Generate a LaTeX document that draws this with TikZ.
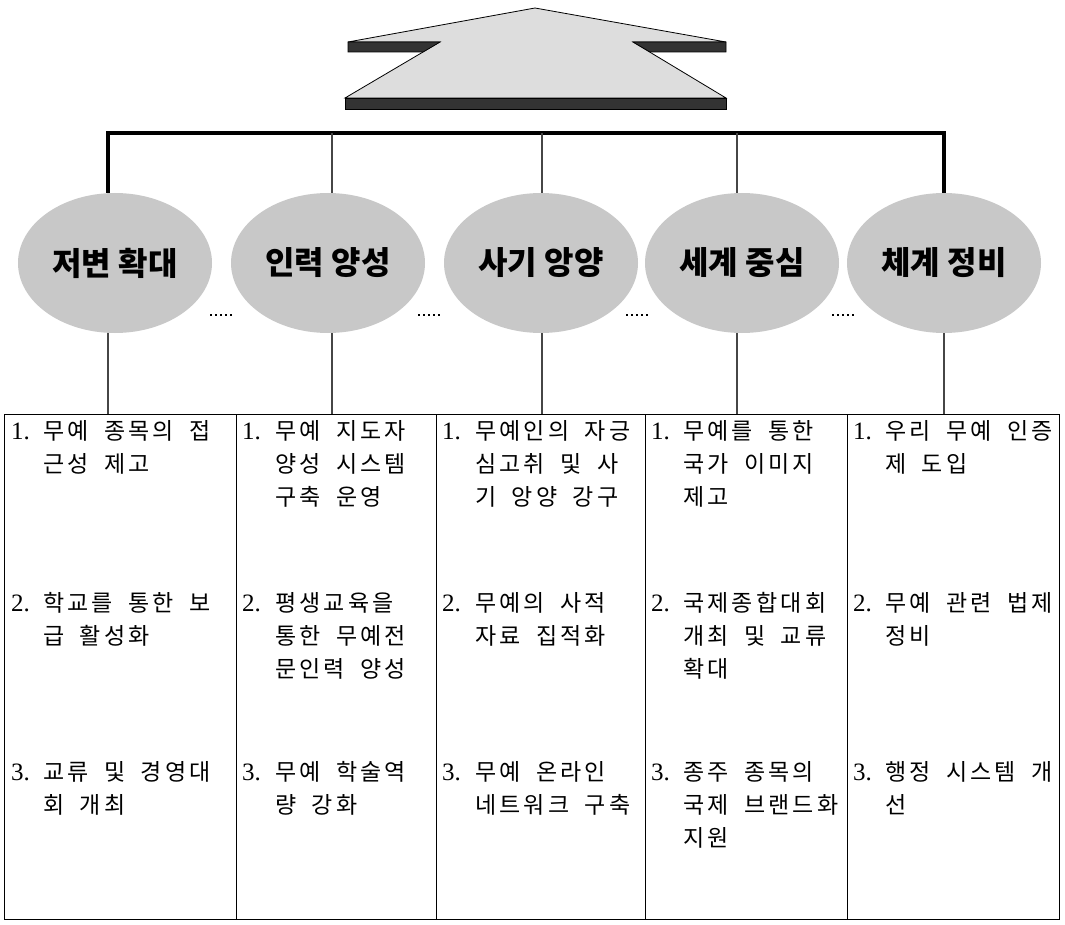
\documentclass[tikz,border=0pt]{standalone}
\usepackage{fontspec}
\setmainfont{Liberation Serif}
\newfontfamily\kr{Noto Sans CJK KR}
\newfontfamily\krhead{Noto Sans CJK KR}
\let\hgend\relax
\newcommand\hg[1]{\hgloop#1\hgend}
\def\hgloop#1{\ifx#1\hgend\else\ifx#1~\hspace{12.2pt}\else\makebox[24.4pt][l]{#1}\fi\expandafter\hgloop\fi}
\usepackage{tikz}
\usetikzlibrary{shapes.geometric}
\definecolor{blobgray}{RGB}{200,200,200}
\definecolor{facegray}{RGB}{221,221,221}
\definecolor{bandgray}{RGB}{51,51,51}
\definecolor{linkgray}{RGB}{70,70,70}
\tikzset{
  blob/.style={ellipse, fill=blobgray, minimum width=194pt, minimum height=140pt, inner sep=0pt,
    font=\krhead\bfseries\fontsize{32}{32}\selectfont},
  cell/.style={draw, line width=1.2pt, minimum width=#1, minimum height=505pt, inner sep=0pt, anchor=north west},
  num/.style={anchor=base west, inner sep=0pt, font=\fontsize{25}{25}\selectfont},
  txt/.style={anchor=base west, inner sep=0pt, font=\kr\fontsize{23}{23}\selectfont},
  bar/.style={line width=3.5pt},
  link/.style={line width=1.1pt, color=linkgray},
  dots/.style={line width=1.2pt, dash pattern=on 1.5pt off 3.5pt}
}

\begin{document}
\begin{tikzpicture}[x=1pt, y=-1pt]
\useasboundingbox (0,0) rectangle (1065,925);

\coordinate (apex) at (535,8);
 \filldraw[fill=facegray, draw=black, line width=0.8pt] (apex) -- (726,42) -- (633,42) -- (726,98) -- (345,98) -- (440,42) -- (348,42) -- cycle;
 \filldraw[fill=bandgray, draw=black, line width=0.6pt] (348,42) -- (440,42) -- (423,52) -- (348,52) -- cycle;
 \filldraw[fill=bandgray, draw=black, line width=0.6pt] (633,42) -- (726,42) -- (726,52) -- (650,52) -- cycle;
 \filldraw[fill=bandgray, draw=black, line width=0.6pt] (345,98) rectangle (726,109);

\node[blob] (e1) at (115,263) {저변 확대};
\node[blob] (e2) at (328,263) {인력 양성};
\node[blob] (e3) at (541,263) {사기 앙양};
\node[blob] (e4) at (742,263) {세계 중심};
\node[blob] (e5) at (944,263) {체계 정비};

\coordinate (t1) at (108,133);
\coordinate (t2) at (332,133);
\coordinate (t3) at (542,133);
\coordinate (t4) at (737,133);
\coordinate (t5) at (944,133);
 \draw[bar] (t1 |- e1.north) -- (t1) -- (t5) -- (t5 |- e5.north);
 \draw[link] (t2) -- (t2 |- e2.north);
 \draw[link] (t3) -- (t3 |- e3.north);
 \draw[link] (t4) -- (t4 |- e4.north);

 \draw[dots] (210,315) -- (235,315);
 \draw[dots] (418,315) -- (443,315);
 \draw[dots] (626,315) -- (651,315);
 \draw[dots] (832,315) -- (857,315);

\node[cell=232pt] (c1) at (4,414) {};
\node[cell=200pt] (c2) at (236,414) {};
\node[cell=209pt] (c3) at (436,414) {};
\node[cell=202pt] (c4) at (645,414) {};
\node[cell=212pt] (c5) at (847,414) {};

 \draw[link] (t1 |- e1.south) -- (t1 |- c1.north);
 \draw[link] (t2 |- e2.south) -- (t2 |- c2.north);
 \draw[link] (t3 |- e3.south) -- (t3 |- c3.north);
 \draw[link] (t4 |- e4.south) -- (t4 |- c4.north);
 \draw[link] (t5 |- e5.south) -- (t5 |- c5.north);

% column 1
\node[num] (n11) at (11,439) {1.};
\node[txt] (a111) at (43,439) {\hg{무예~종목의~접}};
\node[txt] (a112) at (43,472) {\hg{근성~제고}};
\node[num] (n12) at (11,611) {2.};
\node[txt] (a121) at (43,611) {\hg{학교를~통한~보}};
\node[txt] (a122) at (43,644) {\hg{급~활성화}};
\node[num] (n13) at (11,780) {3.};
\node[txt] (a131) at (43,780) {\hg{교류~및~경영대}};
\node[txt] (a132) at (43,813) {\hg{회~개최}};

% column 2
\node[num] (n21) at (242,439) {1.};
\node[txt] (a211) at (275,439) {\hg{무예~지도자}};
\node[txt] (a212) at (275,472) {\hg{양성~시스템}};
\node[txt] (a213) at (275,505) {\hg{구축~운영}};
\node[num] (n22) at (242,611) {2.};
\node[txt] (a221) at (275,611) {\hg{평생교육을}};
\node[txt] (a222) at (275,644) {\hg{통한~무예전}};
\node[txt] (a223) at (275,677) {\hg{문인력~양성}};
\node[num] (n23) at (242,780) {3.};
\node[txt] (a231) at (275,780) {\hg{무예~학술역}};
\node[txt] (a232) at (275,813) {\hg{량~강화}};

% column 3
\node[num] (n31) at (442,439) {1.};
\node[txt] (a311) at (475,439) {\hg{무예인의~자긍}};
\node[txt] (a312) at (475,472) {\hg{심고취~및~사}};
\node[txt] (a313) at (475,505) {\hg{기~앙양~강구}};
\node[num] (n32) at (442,611) {2.};
\node[txt] (a321) at (475,611) {\hg{무예의~사적}};
\node[txt] (a322) at (475,644) {\hg{자료~집적화}};
\node[num] (n33) at (442,780) {3.};
\node[txt] (a331) at (475,780) {\hg{무예~온라인}};
\node[txt] (a332) at (475,813) {\hg{네트워크~구축}};

% column 4
\node[num] (n41) at (651,439) {1.};
\node[txt] (a411) at (683,439) {\hg{무예를~통한}};
\node[txt] (a412) at (683,472) {\hg{국가~이미지}};
\node[txt] (a413) at (683,505) {\hg{제고}};
\node[num] (n42) at (651,611) {2.};
\node[txt] (a421) at (683,611) {\hg{국제종합대회}};
\node[txt] (a422) at (683,644) {\hg{개최~및~교류}};
\node[txt] (a423) at (683,677) {\hg{확대}};
\node[num] (n43) at (651,780) {3.};
\node[txt] (a431) at (683,780) {\hg{종주~종목의}};
\node[txt] (a432) at (683,813) {\hg{국제~브랜드화}};
\node[txt] (a433) at (683,846) {\hg{지원}};

% column 5
\node[num] (n51) at (853,439) {1.};
\node[txt] (a511) at (885,439) {\hg{우리~무예~인증}};
\node[txt] (a512) at (885,472) {\hg{제~도입}};
\node[num] (n52) at (853,611) {2.};
\node[txt] (a521) at (885,611) {\hg{무예~관련~법제}};
\node[txt] (a522) at (885,644) {\hg{정비}};
\node[num] (n53) at (853,780) {3.};
\node[txt] (a531) at (885,780) {\hg{행정~시스템~개}};
\node[txt] (a532) at (885,813) {\hg{선}};
\end{tikzpicture}
\end{document}
